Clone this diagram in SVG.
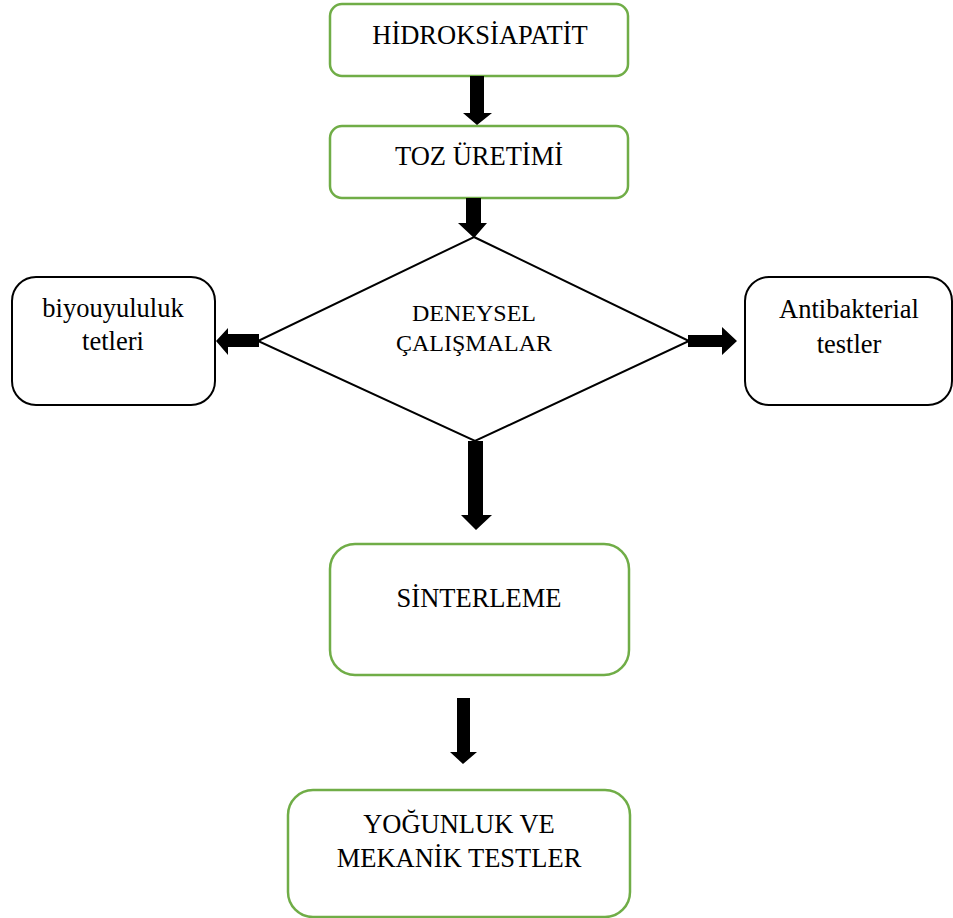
<svg xmlns="http://www.w3.org/2000/svg" width="953" height="918" viewBox="0 0 953 918">
<style>
.g{fill:#fff;stroke:#70ad47;stroke-width:2.5}
.b{fill:#fff;stroke:#000;stroke-width:2}
.t{font-family:"Liberation Serif","Times New Roman",serif;font-size:26.5px;fill:#000;text-anchor:middle}
.s{font-size:24px}
.a{fill:#000;stroke:none}
</style>
<rect width="953" height="918" fill="#fff"/>
<g id="n1"><rect class="g" x="330" y="4" width="298" height="72" rx="12"/><text class="t" x="480" y="44">HİDROKSİAPATİT</text></g>
<g id="n2"><rect class="g" x="330" y="126" width="298" height="72" rx="12"/><text class="t" x="479" y="165">TOZ ÜRETİMİ</text></g>
<g id="n3"><polygon class="b" points="474,237 689,341 475,441 258,341"/><text class="t s" x="474" y="321">DENEYSEL</text><text class="t s" x="474" y="351">ÇALIŞMALAR</text></g>
<g id="n4"><rect class="b" x="12" y="277" width="203" height="128" rx="24"/><text class="t" x="113" y="317">biyouyululuk</text><text class="t" x="113" y="350">tetleri</text></g>
<g id="n5"><rect class="b" x="745" y="277" width="207" height="128" rx="24"/><text class="t" x="849" y="318">Antibakterial</text><text class="t" x="849" y="353">testler</text></g>
<g id="n6"><rect class="g" x="330" y="544" width="299" height="131" rx="25"/><text class="t" x="479" y="607">SİNTERLEME</text></g>
<g id="n7"><rect class="g" x="288" y="790" width="342" height="127" rx="25"/><text class="t" x="459" y="833">YOĞUNLUK VE</text><text class="t" x="459" y="867">MEKANİK TESTLER</text></g>
<g id="connectors">
<polygon class="a" points="470,76 484,76 484,113 492,113 477,125 463,113 470,113"/>
<polygon class="a" points="466,198 481,198 481,223 487,223 474,238 458,223 466,223"/>
<polygon class="a" points="468,441 483,441 483,515 492,515 476,530 461,515 468,515"/>
<polygon class="a" points="457,698 470,698 470,752 477,752 463,764 450,752 457,752"/>
<polygon class="a" points="259,334 228,334 228,328 216,341 228,355 228,347 259,347"/>
<polygon class="a" points="688,335 722,335 722,327 737,341 722,355 722,347 688,347"/>
</g>
</svg>
